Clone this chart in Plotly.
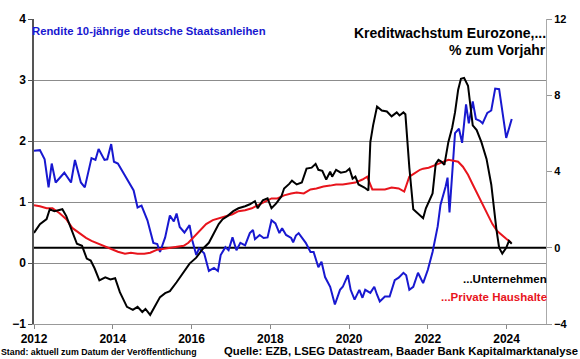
import plotly.graph_objects as go

# Rendite 10-jährige deutsche Staatsanleihen (left axis, %)
yield_x = [2012.00, 2012.15, 2012.27, 2012.37, 2012.45, 2012.55, 2012.77, 2012.94, 2013.04, 2013.19,
           2013.29, 2013.46, 2013.56, 2013.64, 2013.79, 2013.86, 2013.96, 2014.03, 2014.13, 2014.33,
           2014.53, 2014.63, 2014.73, 2014.88, 2015.03, 2015.13, 2015.20, 2015.33, 2015.45, 2015.55,
           2015.62, 2015.70, 2015.82, 2015.95, 2016.02, 2016.12, 2016.19, 2016.32, 2016.44, 2016.57,
           2016.67, 2016.74, 2016.86, 2016.94, 2017.04, 2017.14, 2017.24, 2017.36, 2017.48, 2017.56,
           2017.61, 2017.73, 2017.83, 2017.93, 2018.03, 2018.13, 2018.23, 2018.30, 2018.40, 2018.53,
           2018.58, 2018.65, 2018.72, 2018.90, 2019.02, 2019.10, 2019.22, 2019.30, 2019.39, 2019.52,
           2019.64, 2019.77, 2019.84, 2019.97, 2020.04, 2020.14, 2020.26, 2020.34, 2020.41, 2020.54,
           2020.64, 2020.71, 2020.78, 2020.91, 2021.03, 2021.16, 2021.26, 2021.38, 2021.45, 2021.53,
           2021.63, 2021.75, 2021.88, 2022.00, 2022.12, 2022.25, 2022.32, 2022.45, 2022.50, 2022.55,
           2022.69, 2022.79, 2022.87, 2022.97, 2023.04, 2023.14, 2023.22, 2023.32, 2023.39, 2023.51,
           2023.61, 2023.71, 2023.81, 2023.99, 2024.13]
yield_y = [1.84, 1.85, 1.70, 1.24, 1.63, 1.32, 1.48, 1.32, 1.69, 1.32,
           1.24, 1.72, 1.69, 1.87, 1.69, 1.70, 1.95, 1.66, 1.63, 1.40,
           1.19, 0.91, 0.94, 0.70, 0.33, 0.31, 0.18, 0.42, 0.78, 0.68,
           0.81, 0.59, 0.50, 0.62, 0.37, 0.13, 0.24, 0.16, -0.13, -0.08,
           -0.13, 0.13, 0.26, 0.21, 0.42, 0.21, 0.33, 0.29, 0.49, 0.54,
           0.39, 0.46, 0.41, 0.42, 0.70, 0.65, 0.49, 0.57, 0.46, 0.41,
           0.34, 0.45, 0.49, 0.33, 0.18, 0.18, -0.07, 0.02, -0.23, -0.39,
           -0.68, -0.44, -0.39, -0.20, -0.44, -0.60, -0.44, -0.57, -0.44, -0.49,
           -0.39, -0.52, -0.63, -0.55, -0.55, -0.28, -0.24, -0.16, -0.20, -0.44,
           -0.39, -0.16, -0.33, -0.11, 0.18, 0.60, 0.95, 1.25, 1.40, 0.83,
           2.13, 2.20, 1.97, 2.60, 2.29, 2.65, 2.36, 2.33, 2.29, 2.46,
           2.50, 2.86, 2.85, 2.05, 2.36]

# Kreditwachstum Unternehmen (right axis, % yoy)
corp_x = [2012.00, 2012.15, 2012.32, 2012.40, 2012.52, 2012.65, 2012.72, 2012.82, 2012.94, 2013.09,
          2013.22, 2013.34, 2013.44, 2013.54, 2013.66, 2013.81, 2013.94, 2014.06, 2014.18, 2014.36,
          2014.51, 2014.63, 2014.75, 2014.83, 2014.95, 2015.08, 2015.20, 2015.33, 2015.45, 2015.62,
          2015.80, 2015.95, 2016.12, 2016.29, 2016.44, 2016.57, 2016.69, 2016.79, 2016.91, 2017.06,
          2017.19, 2017.36, 2017.48, 2017.61, 2017.68, 2017.81, 2017.93, 2018.03, 2018.15, 2018.28,
          2018.35, 2018.48, 2018.55, 2018.67, 2018.80, 2018.92, 2019.05, 2019.15, 2019.22, 2019.32,
          2019.42, 2019.52, 2019.57, 2019.67, 2019.79, 2019.92, 2020.01, 2020.09, 2020.16, 2020.24,
          2020.39, 2020.49, 2020.54, 2020.61, 2020.71, 2020.83, 2020.96, 2021.08, 2021.21, 2021.28,
          2021.38, 2021.43, 2021.48, 2021.53, 2021.63, 2021.75, 2021.88, 2021.95, 2022.05, 2022.12,
          2022.20, 2022.27, 2022.35, 2022.42, 2022.52, 2022.62, 2022.69, 2022.77, 2022.84, 2022.92,
          2023.02, 2023.07, 2023.14, 2023.24, 2023.36, 2023.49, 2023.61, 2023.74, 2023.81, 2023.89,
          2023.99, 2024.06, 2024.13]
corp_y = [0.78, 1.24, 1.50, 2.02, 1.92, 1.97, 2.02, 1.66, 0.98, 0.21,
          0.10, -0.57, -0.67, -1.09, -1.71, -1.55, -1.66, -1.60, -2.33, -3.10,
          -3.26, -3.10, -3.37, -3.21, -3.52, -3.00, -2.59, -2.38, -2.28, -1.81,
          -1.30, -0.83, -0.52, -0.05, 0.26, 0.73, 1.24, 1.50, 1.66, 1.92,
          2.07, 2.18, 2.28, 2.44, 2.07, 2.49, 2.59, 2.07, 2.33, 2.69,
          3.11, 3.35, 3.52, 3.32, 3.42, 4.15, 4.20, 4.40, 4.09, 4.04,
          3.58, 3.99, 3.73, 4.09, 3.94, 3.99, 4.15, 3.63, 3.73, 3.32,
          3.16, 3.00, 5.54, 6.42, 7.41, 7.20, 7.15, 6.89, 7.10, 6.94,
          7.10, 7.00, 5.39, 4.20, 2.02, 1.81, 1.55, 2.07, 2.59, 2.85,
          4.40, 4.61, 4.51, 4.35, 5.54, 6.32, 7.10, 8.29, 8.86, 8.91,
          8.50, 7.62, 6.42, 6.17, 5.54, 4.66, 3.32, 0.98, 0.00, -0.31,
          0.00, 0.36, 0.21]

# Kreditwachstum Private Haushalte (right axis, % yoy)
hh_x = [2012.00, 2012.15, 2012.32, 2012.47, 2012.65, 2012.82, 2012.97, 2013.14, 2013.32, 2013.46,
        2013.64, 2013.81, 2013.96, 2014.13, 2014.31, 2014.46, 2014.63, 2014.80, 2014.95, 2015.13,
        2015.30, 2015.45, 2015.62, 2015.80, 2015.92, 2016.04, 2016.19, 2016.37, 2016.54, 2016.69,
        2016.86, 2017.04, 2017.19, 2017.36, 2017.53, 2017.68, 2017.86, 2018.03, 2018.18, 2018.35,
        2018.53, 2018.67, 2018.85, 2019.02, 2019.17, 2019.35, 2019.52, 2019.67, 2019.84, 2020.01,
        2020.16, 2020.34, 2020.46, 2020.51, 2020.59, 2020.76, 2020.91, 2021.08, 2021.26, 2021.40,
        2021.53, 2021.65, 2021.80, 2021.88, 2022.02, 2022.20, 2022.37, 2022.52, 2022.65, 2022.77,
        2022.89, 2023.02, 2023.14, 2023.27, 2023.39, 2023.51, 2023.64, 2023.76, 2023.89, 2023.99,
        2024.06, 2024.11]
hh_y = [2.23, 2.18, 2.07, 2.07, 1.81, 1.50, 1.04, 0.78, 0.52, 0.36,
        0.21, 0.05, -0.05, -0.21, -0.31, -0.26, -0.31, -0.31, -0.26, -0.10,
        -0.05, 0.00, 0.05, 0.10, 0.26, 0.52, 0.88, 1.24, 1.45, 1.55,
        1.66, 1.76, 1.92, 1.97, 2.07, 2.23, 2.44, 2.59, 2.59, 2.75,
        2.85, 2.90, 2.85, 3.06, 3.11, 3.21, 3.26, 3.32, 3.32, 3.37,
        3.42, 3.58, 3.73, 3.47, 3.06, 3.06, 3.06, 3.16, 3.11, 2.95,
        3.73, 3.89, 4.09, 4.15, 4.20, 4.35, 4.51, 4.61, 4.56, 4.51,
        4.25, 3.83, 3.32, 2.80, 2.28, 1.76, 1.24, 0.88, 0.62, 0.47,
        0.36, 0.26]

x_ticks = [2012, 2014, 2016, 2018, 2020, 2022, 2024]
left_ticks = [-1, 0, 1, 2, 3, 4]
right_ticks = [-4, 0, 4, 8, 12]

FONT = "Liberation Sans, Arial, sans-serif"
BOLD = dict(family=FONT, size=12, color="black", weight="bold")

fig = go.Figure()
fig.add_trace(go.Scatter(x=hh_x, y=hh_y, yaxis="y2", mode="lines",
                         line=dict(color="#e8141c", width=2), name="Private Haushalte"))
fig.add_trace(go.Scatter(x=corp_x, y=corp_y, yaxis="y2", mode="lines",
                         line=dict(color="black", width=2), name="Unternehmen"))
fig.add_trace(go.Scatter(x=yield_x, y=yield_y, mode="lines",
                         line=dict(color="#1818d0", width=2), name="Rendite"))

fig.update_layout(
    width=580, height=359,
    margin=dict(l=29, r=27, t=15, b=35),
    paper_bgcolor="white", plot_bgcolor="white",
    showlegend=False,
    xaxis=dict(range=[2012, 2025], tickvals=x_ticks, ticktext=[str(t) for t in x_ticks],
               ticks="outside", ticklen=4, tickcolor="#888", showline=True, linecolor="#999",
               linewidth=1, showgrid=False, zeroline=False, tickfont=BOLD),
    yaxis=dict(range=[-1, 4], tickvals=left_ticks, ticks="outside", ticklen=4, tickcolor="#555",
               showline=True, linecolor="#555", linewidth=1.5, showgrid=True,
               gridcolor="#8c8c8c", gridwidth=1.2, zeroline=False, tickfont=BOLD),
    yaxis2=dict(range=[-4, 12], tickvals=right_ticks, overlaying="y", side="right",
                ticks="outside", ticklen=5, tickcolor="#999", showline=True, linecolor="#aaa",
                linewidth=1, showgrid=False, zeroline=False,
                tickfont=dict(family=FONT, size=11, color="black", weight="bold")),
    shapes=[dict(type="line", xref="paper", x0=0, x1=1, yref="y2", y0=0, y1=0,
                 line=dict(color="black", width=2), layer="below")],
)

fig.add_annotation(xref="paper", yref="paper", x=-0.007, y=0.96, xanchor="left", yanchor="middle",
                   text="<b>Rendite 10-jährige deutsche Staatsanleihen</b>", showarrow=False,
                   font=dict(family=FONT, size=11.3, color="#1818d0"))
fig.add_annotation(xref="paper", yref="paper", x=1.003, y=0.955, xanchor="right", yanchor="middle",
                   text="<b>Kreditwachstum Eurozone,...</b>", showarrow=False,
                   font=dict(family=FONT, size=14, color="black"))
fig.add_annotation(xref="paper", yref="paper", x=1.003, y=0.898, xanchor="right", yanchor="middle",
                   text="<b>% zum Vorjahr</b>", showarrow=False,
                   font=dict(family=FONT, size=14, color="black"))
fig.add_annotation(xref="paper", yref="paper", x=1.006, y=0.146, xanchor="right", yanchor="middle",
                   text="<b>...Unternehmen</b>", showarrow=False,
                   font=dict(family=FONT, size=11.5, color="black"))
fig.add_annotation(xref="paper", yref="paper", x=1.006, y=0.088, xanchor="right", yanchor="middle",
                   text="<b>...Private Haushalte</b>", showarrow=False,
                   font=dict(family=FONT, size=11.5, color="#e8141c"))
fig.add_annotation(xref="paper", yref="paper", x=-0.068, y=-0.093, xanchor="left", yanchor="middle",
                   text="<b>Stand: aktuell zum Datum der Veröffentlichung</b>", showarrow=False,
                   font=dict(family=FONT, size=8.8, color="black"))
fig.add_annotation(xref="paper", yref="paper", x=1.066, y=-0.087, xanchor="right", yanchor="middle",
                   text="<b>Quelle: EZB, LSEG Datastream, Baader Bank Kapitalmarktanalyse</b>",
                   showarrow=False, font=dict(family=FONT, size=11.3, color="black"))

fig.write_html("out.html", config={"displayModeBar": False},
               post_script="document.body.style.margin='0';")
